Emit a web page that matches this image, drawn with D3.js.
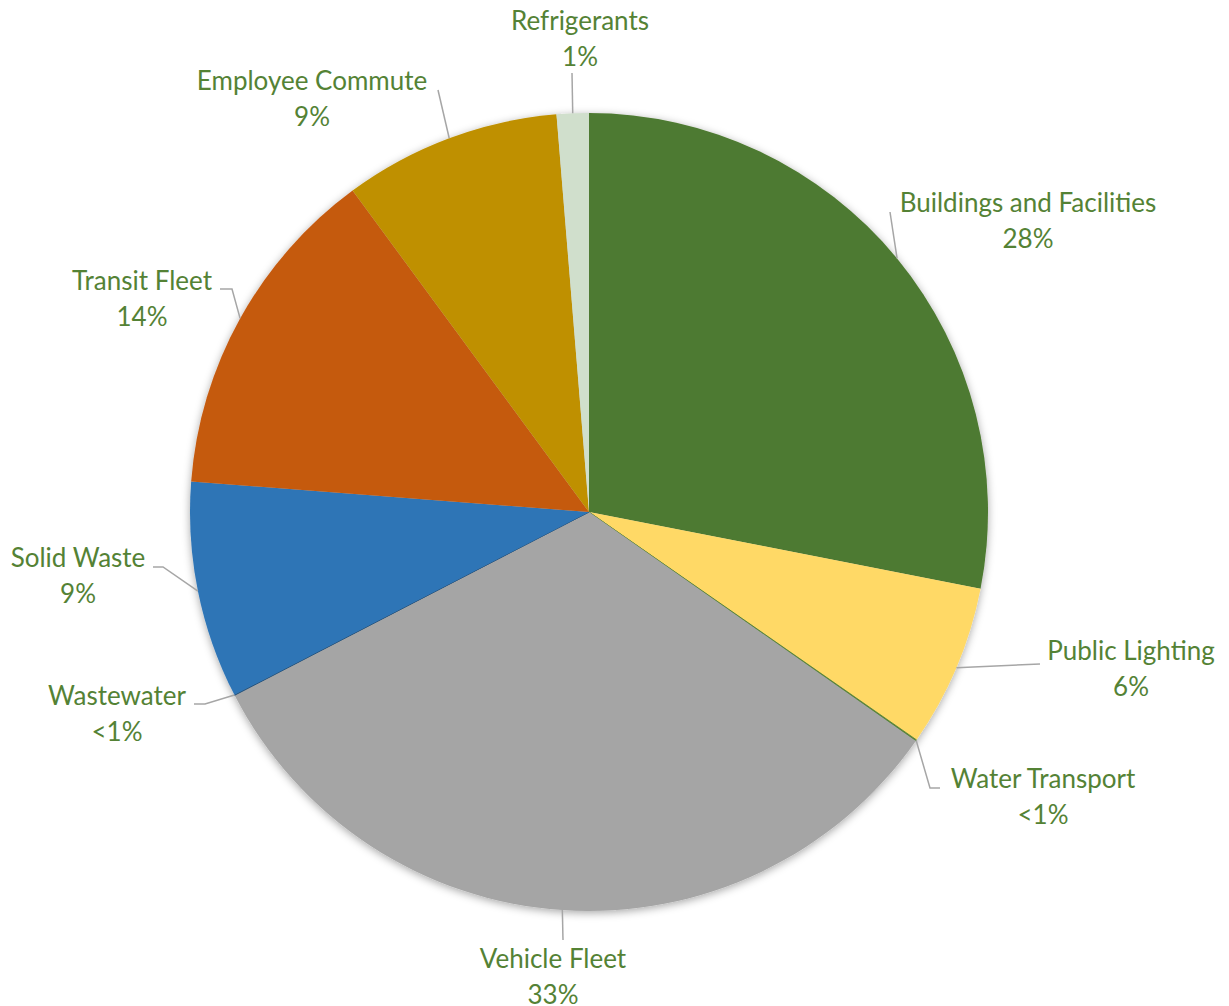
<!DOCTYPE html>
<html>
<head>
<meta charset="utf-8">
<script src="https://cdn.jsdelivr.net/npm/d3@7"></script>
<style>
  html, body { margin: 0; padding: 0; background: #ffffff; }
  svg { display: block; }
</style>
</head>
<body>
<svg id="chart" width="1229" height="1006"></svg>
<script>
// ---- data ----
const categories = ["Buildings and Facilities", "Public Lighting", "Water Transport", "Vehicle Fleet",
                    "Wastewater", "Solid Waste", "Transit Fleet", "Employee Commute", "Refrigerants"];
const values = [28.1, 6.6, 0.05, 32.7, 0.02, 8.8, 13.7, 8.8, 1.3];
const percentLabels = ["28%", "6%", "<1%", "33%", "<1%", "9%", "14%", "9%", "1%"];

// ---- styles / layout ----
const colors = ["#4E7A31", "#FFD966", "#548235", "#A5A5A5", "#1F4E79", "#2E75B6", "#C55A11", "#BF9000", "#D0DFCC"];
const width = 1229, height = 1006;
const cx = 589, cy = 512, radius = 399;
// label centre (relative to pie centre) and leader line points after the arc point (relative)
const labelLayout = [
  { label: [439, -291], leader: [[301, -300]] },
  { label: [542, 157],  leader: [[451, 152]] },
  { label: [454, 285],  leader: [[341, 276], [351, 276]] },
  { label: [-36, 465],  leader: [[-26, 428]] },
  { label: [-472, 202], leader: [[-384, 192], [-395, 192]] },
  { label: [-511, 64],  leader: [[-426, 55], [-436, 55]] },
  { label: [-447, -213],leader: [[-357, -223], [-369, -223]] },
  { label: [-277, -413],leader: [[-151, -422]] },
  { label: [-9, -473],  leader: [[-17, -439]] }
];
const textColor = "#548235";
const leaderColor = "#A6A6A6";
const fontSize = 26;
const lineGap = 35.6;

const svg = d3.select("#chart");
const defs = svg.append("defs");
const f = defs.append("filter").attr("id", "shadow")
  .attr("x", "-10%").attr("y", "-10%").attr("width", "120%").attr("height", "120%");
f.append("feDropShadow").attr("dx", 0).attr("dy", 2).attr("stdDeviation", 4)
  .attr("flood-color", "#000").attr("flood-opacity", 0.35);

const data = categories.map((c, i) => ({ name: c, value: values[i], pct: percentLabels[i], color: colors[i], layout: labelLayout[i] }));

const pie = d3.pie().value(d => d.value).sort(null);
const arc = d3.arc().innerRadius(0).outerRadius(radius);
const arcs = pie(data);

const g = svg.append("g").attr("transform", `translate(${cx},${cy})`);

g.append("g").attr("filter", "url(#shadow)")
  .selectAll("path").data(arcs).join("path")
  .attr("d", arc)
  .attr("fill", d => d.data.color)
  .attr("stroke", d => d.data.color)
  .attr("stroke-width", d => d.data.value < 0.1 ? 0.8 : 0);

// leader lines
const line = d3.line();
g.append("g").selectAll("path").data(arcs).join("path")
  .attr("d", d => {
    const mid = (d.startAngle + d.endAngle) / 2;
    const p0 = [radius * Math.sin(mid), -radius * Math.cos(mid)];
    return line([p0, ...d.data.layout.leader]);
  })
  .attr("fill", "none")
  .attr("stroke", leaderColor)
  .attr("stroke-width", 1.5);

// labels
const labels = g.append("g").selectAll("text").data(arcs).join("text")
  .attr("text-anchor", "middle")
  .attr("font-family", "Lato, 'Open Sans', sans-serif")
  .attr("font-size", fontSize)
  .attr("fill", textColor)
  .attr("transform", d => `translate(${d.data.layout.label[0]},${d.data.layout.label[1]})`);
labels.append("tspan").attr("x", 0).attr("y", -lineGap / 2 + 9).text(d => d.data.name);
labels.append("tspan").attr("x", 0).attr("y", lineGap / 2 + 9).text(d => d.data.pct);
</script>
</body>
</html>
